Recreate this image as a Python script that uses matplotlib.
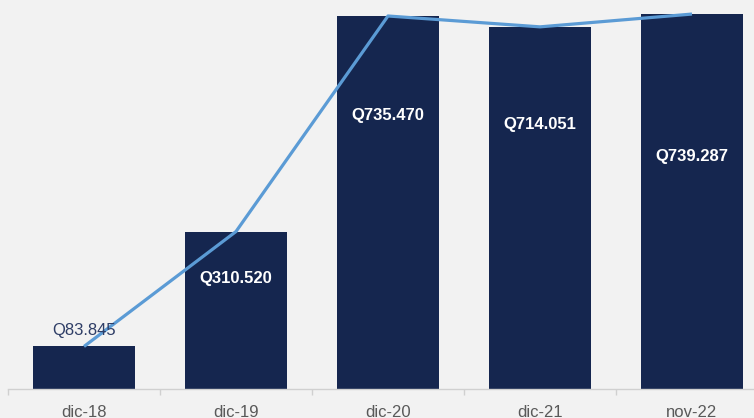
import numpy as np
import matplotlib
matplotlib.use("Agg")
import matplotlib.pyplot as plt

plt.rcParams['font.family'] = ['Liberation Sans', 'DejaVu Sans']

periods = ['dic-18', 'dic-19', 'dic-20', 'dic-21', 'nov-22']
amounts = [83.845, 310.520, 735.470, 714.051, 739.287]
trend = [83.845, 310.520, 735.470, 714.051, 739.287]
labels = ['Q83.845', 'Q310.520', 'Q735.470', 'Q714.051', 'Q739.287']

navy = '#15264f'
blue = '#5b9bd5'
bg = '#f2f2f2'

fig = plt.figure(figsize=(7.54, 4.18), dpi=100, facecolor=bg)
ax = fig.add_axes([8/754., 29/418., 760/754., 389/418.])
ax.set_facecolor(bg)

xs = np.arange(len(periods))
ax.bar(xs, amounts, width=0.665, color=navy, zorder=2)
ax.plot(xs, trend, color=blue, lw=2.3, zorder=3, solid_capstyle='butt')

# label heights (data units) as placed in the original
label_y = [116, 217, 540, 521, 458]
for i, (x, t) in enumerate(zip(xs, labels)):
    if i == 0:
        ax.text(x, label_y[i], t, ha='center', va='center', fontsize=12,
                color='#2e3d66', zorder=4)
    else:
        ax.text(x, label_y[i], t, ha='center', va='center', fontsize=12,
                color='white', fontweight='bold', zorder=4)

ax.set_xlim(-0.5, 4.5)
ax.set_ylim(0, 767)
ax.set_xticks(xs)
ax.set_xticklabels(periods, fontsize=12, color='#595959')
ax.set_xticks(np.arange(-0.5, 5, 1), minor=True)
ax.tick_params(axis='x', which='major', length=0, pad=11.5)
ax.tick_params(axis='x', which='minor', length=4, color='#d0d0d0', width=1)
ax.set_yticks([])
for s in ['top', 'right', 'left']:
    ax.spines[s].set_visible(False)
ax.spines['bottom'].set_color('#d0d0d0')
ax.spines['bottom'].set_linewidth(1)

fig.savefig('out.png', dpi=100, facecolor=bg)
